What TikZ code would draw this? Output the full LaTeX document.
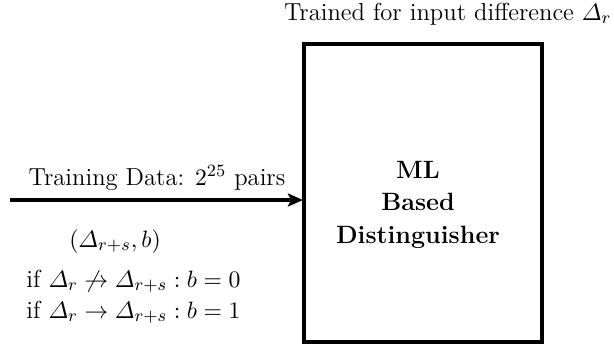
\documentclass[tikz,border=0pt]{standalone}
\usepackage{amsmath,amssymb}
\usetikzlibrary{arrows.meta}
\begin{document}
\begin{tikzpicture}[x=0.463pt,y=-0.463pt,
  every node/.style={font=\fontsize{11.4}{13.7}\selectfont},
  lbl/.style={inner sep=0pt, anchor=base},
  boxstyle/.style={draw, line width=1.6pt},
  arr/.style={line width=1.6pt, -{Stealth[length=7pt,width=6pt,inset=1.5pt]}}]
\useasboundingbox (0,0) rectangle (614,344);
\draw[boxstyle] (304,44) rectangle (542,342);
\node[align=center, font=\fontsize{11.6}{13.9}\selectfont\bfseries, inner sep=0pt, anchor=base] (ml) at (418,243) {ML\\[1pt]Based\\[1pt]Distinguisher};
\coordinate (src) at (10,200);
\coordinate (dst) at (303,200);
\draw[arr] (src) -- (dst);
\node[lbl] (train) at (157,185) {Training Data: $2^{25}$ pairs};
\node[lbl] (pair) at (115,247) {$(\varDelta_{r+s},b)$};
\node[lbl, anchor=base west] (c0) at (26,287) {if $\varDelta_r\not\rightarrow\varDelta_{r+s}:b=0$};
\node[lbl, anchor=base west] (c1) at (26,318) {if $\varDelta_r\rightarrow\varDelta_{r+s}:b=1$};
\node[lbl, anchor=base east] (top) at (612,20) {Trained for input difference $\varDelta_r$};
\end{tikzpicture}
\end{document}
